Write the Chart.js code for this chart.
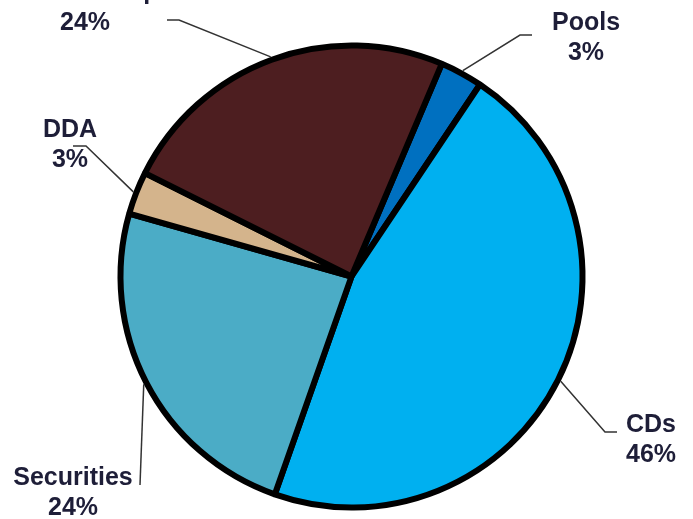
<!DOCTYPE html>
<html>
<head>
<meta charset="utf-8">
<script src="https://cdn.jsdelivr.net/npm/chart.js@4/dist/chart.umd.min.js"></script>
<style>
  html, body { margin: 0; padding: 0; background: #fff; }
  canvas { display: block; }
</style>
</head>
<body>
<canvas id="pieChart" width="693" height="519"></canvas>
<script>
// Portfolio mix, clockwise from the Pools slice
const categories = ["Pools", "CDs", "Securities", "DDA", "Cash Sweep"];
const shares = [3, 46, 24, 3, 24];
const percentLabels = ["3%", "46%", "24%", "3%", "24%"];

const sliceColors = ["#0070C0", "#00B0F0", "#4BACC6", "#D4B48C", "#4D1E20"];

// label placement: leader elbow, leader end, text centre x, first baseline y, line gap
const labelLayout = [
  { elbow: [520, 35], end: [532, 35], tx: 586, ty: 30, gap: 29.5 },
  { elbow: [605, 432], end: [617, 432], tx: 651, ty: 432, gap: 29.5 },
  { elbow: [140, 485], end: [140, 485], tx: 73, ty: 485, gap: 29.5 },
  { elbow: [86, 146], end: [73, 146], tx: 70, ty: 137, gap: 29.5 },
  { elbow: [179, 20], end: [167, 20], tx: 85, ty: -1.5, gap: 31.5 }
];

// draws category + percent labels with leader lines from each slice rim
const leaderLabels = {
  id: "leaderLabels",
  afterDatasetsDraw(chart) {
    const ctx = chart.ctx;
    const arcs = chart.getDatasetMeta(0).data;
    ctx.save();
    arcs.forEach((arc, i) => {
      const lay = labelLayout[i];
      const mid = (arc.startAngle + arc.endAngle) / 2;
      const r = arc.outerRadius + 3;
      const ax = arc.x + Math.cos(mid) * r;
      const ay = arc.y + Math.sin(mid) * r;

      ctx.strokeStyle = "#333333";
      ctx.lineWidth = 1.5;
      ctx.beginPath();
      ctx.moveTo(ax, ay);
      ctx.lineTo(lay.elbow[0], lay.elbow[1]);
      ctx.lineTo(lay.end[0], lay.end[1]);
      ctx.stroke();

      ctx.fillStyle = "#1e1e38";
      ctx.font = 'bold 25px "Liberation Sans", Arial, sans-serif';
      ctx.textAlign = "center";
      ctx.textBaseline = "alphabetic";
      ctx.fillText(categories[i], lay.tx, lay.ty);
      ctx.fillText(percentLabels[i], lay.tx, lay.ty + lay.gap);
    });
    ctx.restore();
  }
};

const ctx = document.getElementById("pieChart");

new Chart(ctx, {
  type: "pie",
  data: {
    labels: categories,
    datasets: [
      {
        data: shares,
        backgroundColor: sliceColors,
        borderColor: "#000000",
        borderWidth: 6,
        radius: 231
      }
    ]
  },
  options: {
    responsive: false,
    animation: false,
    rotation: 23,
    layout: { padding: { left: 10, right: 0, top: 40, bottom: 6 } },
    plugins: {
      legend: { display: false },
      tooltip: { enabled: false }
    }
  },
  plugins: [leaderLabels]
});
</script>
</body>
</html>
